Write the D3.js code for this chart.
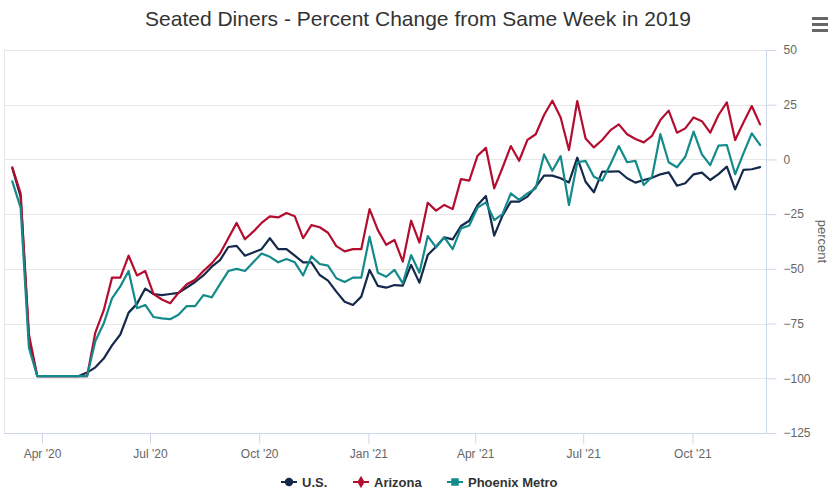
<!DOCTYPE html>
<html>
<head>
<meta charset="utf-8">
<script src="https://cdn.jsdelivr.net/npm/d3@7"></script>
<style>
	body { margin: 0; background: #fff; }
	svg { display: block; font-family: "Liberation Sans", Arial, Helvetica, sans-serif; }
</style>
</head>
<body>
<div id="chart"></div>
<script>
'use strict';

// weekly points, first week ending 7 Mar 2020
var firstWeek = new Date(2020, 2, 7);
var nWeeks = 91;

var seriesNames = ['U.S.', 'Arizona', 'Phoenix Metro'];
var seriesColors = ['#15294c', '#b30d2f', '#138a8b'];

var us = [-4, -17, -82, -99, -99, -99, -99, -99, -99, -97.4, -95, -91, -85, -80, -70, -66, -59, -61.5,
	-62, -61.5, -61, -58.5, -56, -53, -49, -46, -40, -39.5, -44, -42.5, -41, -36, -41, -41, -44, -47,
	-47, -52.8, -55.4, -60.4, -65, -66.5, -62.7, -50.5, -57.8, -58.6, -57.4, -57.7, -48.2, -56.3,
	-43.7, -39.9, -35.6, -36.5, -30.4, -28, -20.8, -16.7, -34.8, -25.7, -19.3, -19.3, -17, -12.5,
	-7.4, -7.4, -8.6, -10.5, 0.8, -10.2, -15, -5.6, -5.6, -5.4, -8.6, -10.6, -9.4, -8.4, -6.8, -5.9,
	-12, -10.9, -6.8, -6, -9.4, -6.7, -3.3, -13.7, -4.8, -4.5, -3.5];

var arizona = [-3.6, -15.5, -80, -99, -99, -99, -99, -99, -99, -99, -79, -69, -54, -54, -44, -53, -51, -61.5,
	-64, -65.7, -61, -57, -55, -51, -47.5, -43, -36, -29, -36.5, -33, -29, -26, -26.5, -24.5, -26, -36,
	-30, -31, -33.5, -39.6, -42, -41, -41, -22.7, -32.3, -39, -36.8, -46.7, -28, -38,
	-19.8, -23.4, -20.8, -22.7, -9, -9.7, 1.7, 5.3, -13.2, -3.8, 6.1, -0.6, 8.9, 11.5,
	20.3, 26.8, 19.2, 4.3, 26.7, 9.6, 5.5, 8.9, 13.4, 16, 11.5, 9.3, 7.8, 10.8, 18, 22.3,
	12.2, 14.2, 19.2, 17.5, 12.2, 20.3, 26.1, 8.9, 16.9, 24.4, 16];

var phoenix = [-10, -22, -86, -99, -99, -99, -99, -99, -99, -99, -83, -75, -63.5, -58, -51, -68, -66.5, -72,
	-72.6, -73, -71, -67, -67, -62, -63, -57, -51, -50, -51, -47, -43, -44.5, -47, -45.5, -47, -53,
	-44.3, -47.8, -48.5, -54.3, -56, -54, -54, -35.3, -51.8, -53.6, -50.5, -56.6, -43.7, -51.8,
	-35, -40.2, -35.6, -41, -31.5, -30.2, -22, -19.6, -27.7, -25, -15.5, -18.5, -15.5, -13.2,
	2.3, -5.2, 1.5, -20.8, -1.3, -0.7, -7.9, -9.7, -2.1, 6.1, -1.3, -0.7, -11.7, -7.9, 11.6, -1.3,
	-3.6, 1.2, 12.7, 2.3, -2.6, 6.3, 6.6, -6.8, 2.8, 11.9, 6.6];

var xTickDates = [new Date(2020, 3, 1), new Date(2020, 6, 1), new Date(2020, 9, 1), new Date(2021, 0, 1),
	new Date(2021, 3, 1), new Date(2021, 6, 1), new Date(2021, 9, 1)];
var xTickLabels = ["Apr '20", "Jul '20", "Oct '20", "Jan '21", "Apr '21", "Jul '21", "Oct '21"];
var yTicks = [50, 25, 0, -25, -50, -75, -100, -125];

var width = 835, height = 490;
var plot = {left: 4, right: 766, top: 50, bottom: 433};

var weeks = d3.range(nWeeks).map(function (i) { return d3.timeDay.offset(firstWeek, 7 * i); });

var x = d3.scaleTime()
	.domain([new Date(2020, 1, 29), new Date(2021, 11, 2)])
	.range([plot.left, plot.right])
	;
var y = d3.scaleLinear()
	.domain([-125, 50])
	.range([plot.bottom, plot.top])
	;

var svg = d3.select('#chart')
	.append('svg')
		.attr('width', width)
		.attr('height', height)
	;

svg.append('text')
	.attr('x', 418)
	.attr('y', 26)
	.attr('text-anchor', 'middle')
	.attr('fill', '#333')
	.attr('font-size', '21px')
	.text('Seated Diners - Percent Change from Same Week in 2019')
	;

// context menu icon
svg.append('g')
	.selectAll('rect')
	.data([0, 1, 2])
	.enter()
	.append('rect')
		.attr('x', 812)
		.attr('y', function (d) { return 17 + d * 6; })
		.attr('width', 16)
		.attr('height', 3)
		.attr('fill', '#666')
	;

// grid
svg.append('g')
	.selectAll('line')
	.data(yTicks)
	.enter()
	.append('line')
		.attr('x1', plot.left)
		.attr('x2', plot.right)
		.attr('y1', function (d) { return Math.round(y(d)) + 0.5; })
		.attr('y2', function (d) { return Math.round(y(d)) + 0.5; })
		.attr('stroke', '#e6e6e6')
	;
svg.append('line')
	.attr('x1', plot.left + 0.5)
	.attr('x2', plot.left + 0.5)
	.attr('y1', plot.top)
	.attr('y2', plot.bottom)
	.attr('stroke', '#e6e6e6')
	;

// right y axis
var yAxis = d3.axisRight(y)
	.tickValues(yTicks)
	.tickSize(10)
	.tickPadding(7)
	;
var gy = svg.append('g')
	.attr('transform', 'translate(' + (plot.right + 0.5) + ',0)')
	.call(yAxis)
	;
gy.select('.domain').attr('stroke', '#ccd6eb').attr('d', 'M0,' + plot.top + 'V' + plot.bottom);
gy.selectAll('.tick line').attr('stroke', '#ccd6eb');
gy.selectAll('.tick text')
	.attr('fill', '#666')
	.attr('font-size', '12px')
	.attr('font-family', null)
	;

svg.append('text')
	.attr('transform', 'translate(818,' + ((plot.top + plot.bottom) / 2) + ') rotate(90)')
	.attr('text-anchor', 'middle')
	.attr('fill', '#666')
	.attr('font-size', '13px')
	.text('percent')
	;

// bottom x axis
var xAxis = d3.axisBottom(x)
	.tickValues(xTickDates)
	.tickFormat(function (d, i) { return xTickLabels[i]; })
	.tickSize(10)
	.tickPadding(6)
	;
var gx = svg.append('g')
	.attr('transform', 'translate(0,' + (plot.bottom + 0.5) + ')')
	.call(xAxis)
	;
gx.select('.domain').attr('stroke', '#ccd6eb').attr('d', 'M' + plot.left + ',0H' + plot.right);
gx.selectAll('.tick line').attr('stroke', '#ccd6eb');
gx.selectAll('.tick text')
	.attr('fill', '#666')
	.attr('font-size', '12px')
	.attr('font-family', null)
	;

// lines
var line = d3.line()
	.x(function (d, i) { return x(weeks[i]); })
	.y(function (d) { return y(d); })
	;

svg.append('g')
	.selectAll('path')
	.data([us, arizona, phoenix])
	.enter()
	.append('path')
		.attr('d', line)
		.attr('fill', 'none')
		.attr('stroke', function (d, i) { return seriesColors[i]; })
		.attr('stroke-width', 2.2)
		.attr('stroke-linejoin', 'round')
		.attr('stroke-linecap', 'round')
	;

// legend
var legendX = [281, 353, 447];
var legend = svg.append('g')
	.selectAll('g')
	.data(seriesNames)
	.enter()
	.append('g')
		.attr('transform', function (d, i) { return 'translate(' + legendX[i] + ',482)'; })
	;
legend.append('line')
	.attr('x1', 0)
	.attr('x2', 16)
	.attr('stroke', function (d, i) { return seriesColors[i]; })
	.attr('stroke-width', 2)
	;
legend.append('path')
	.attr('transform', 'translate(8,0)')
	.attr('d', function (d, i) {
		var sym = [d3.symbolCircle, d3.symbolDiamond, d3.symbolSquare][i];
		return d3.symbol().type(sym).size(i === 1 ? 44 : 56)();
	})
	.attr('fill', function (d, i) { return seriesColors[i]; })
	;
legend.append('text')
	.attr('x', 21)
	.attr('y', 4.5)
	.attr('fill', '#333')
	.attr('font-size', '13px')
	.attr('font-weight', 'bold')
	.text(function (d) { return d; })
	;
</script>
</body>
</html>
